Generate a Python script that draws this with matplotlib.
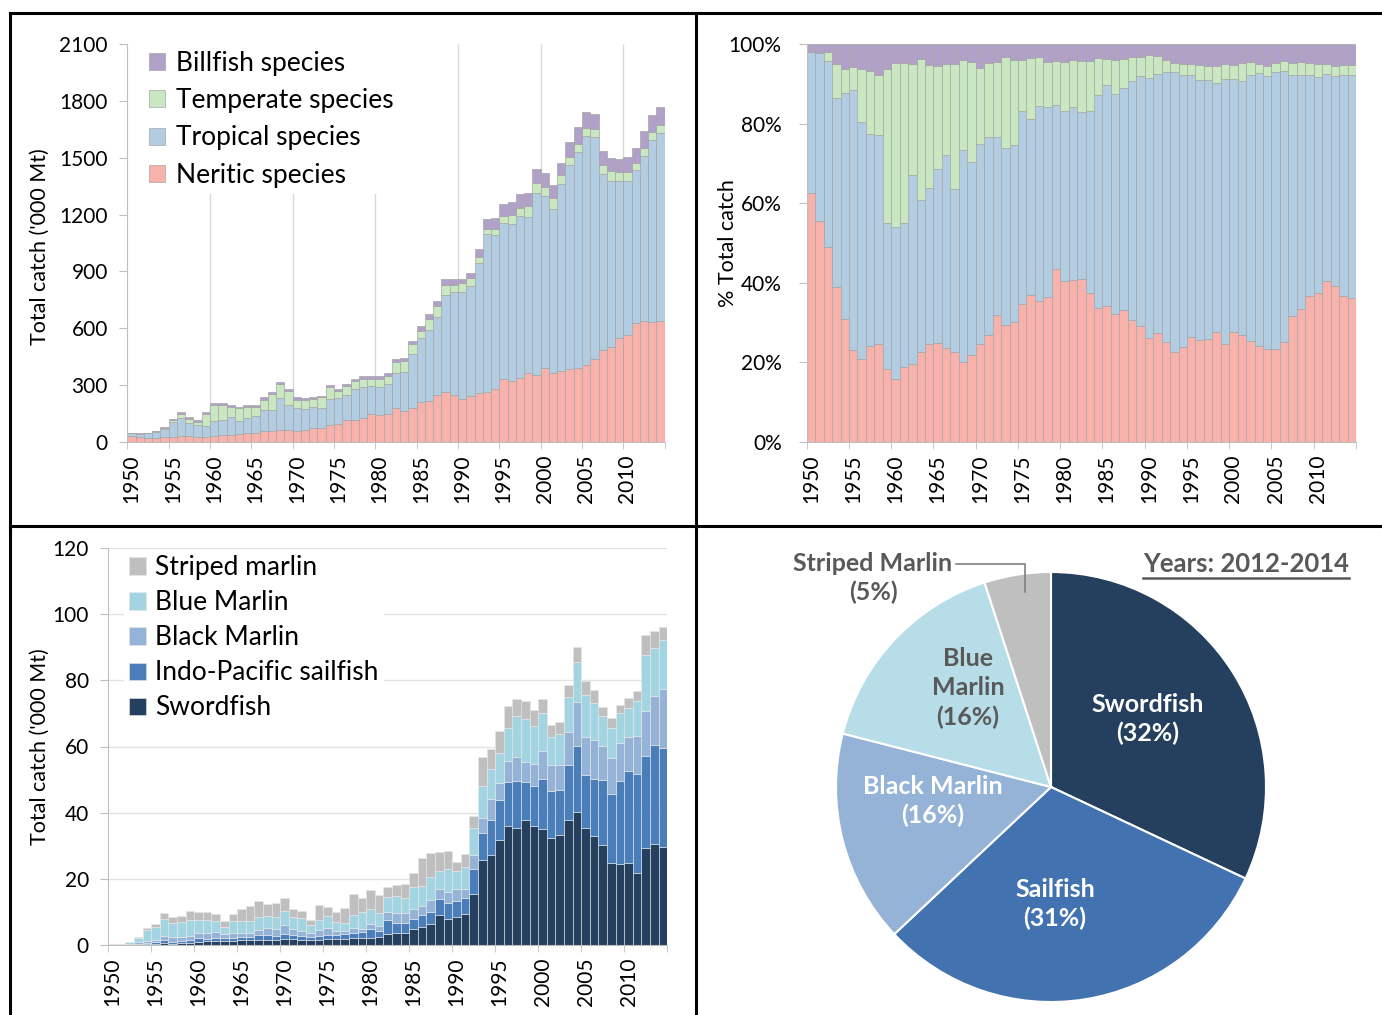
import numpy as np
import matplotlib.pyplot as plt
from matplotlib.lines import Line2D

plt.rcParams['font.family'] = ['Lato', 'DejaVu Sans']

## data
annees = np.arange(1950, 2015)

# catch by species group ('000 t)
neritic = [30, 25, 23, 23, 25, 28, 33, 32, 28, 29,
           33, 39, 38, 42, 48, 49, 56, 60, 64, 61,
           58, 62, 76, 72, 91, 97, 114, 118, 126, 150,
           140, 148, 180, 166, 180, 209, 216, 246, 263, 250,
           226, 245, 256, 265, 282, 330, 324, 340, 365, 353,
           391, 366, 373, 383, 388, 407, 436, 487, 499, 549,
           562, 628, 641, 634, 638]
tropical = [17, 19, 22, 28, 46, 79, 95, 70, 60, 58,
            79, 75, 93, 71, 76, 86, 114, 108, 169, 136,
            119, 114, 107, 108, 134, 136, 136, 163, 166, 143,
            148, 158, 185, 203, 286, 339, 374, 416, 515, 541,
            563, 579, 690, 831, 809, 825, 825, 850, 821, 960,
            905, 864, 986, 1081, 1140, 1208, 1175, 928, 880, 828,
            814, 806, 867, 959, 993]
temperate = [0, 0, 1, 5, 5, 7, 21, 21, 17, 61,
             85, 83, 54, 66, 60, 51, 54, 83, 72, 70,
             45, 43, 45, 56, 65, 36, 47, 41, 39, 38,
             42, 43, 56, 56, 50, 40, 57, 54, 52, 39,
             49, 40, 32, 27, 34, 36, 48, 46, 58, 55,
             51, 60, 49, 38, 42, 42, 43, 49, 51, 48,
             51, 39, 41, 42, 41]
billfish = [1, 1, 1, 3, 5, 7, 10, 9, 9, 10,
            10, 10, 10, 7, 10, 11, 12, 13, 13, 13,
            14, 11, 11, 8, 12, 11, 11, 11, 16, 15,
            16, 15, 19, 19, 19, 23, 27, 28, 28, 29,
            24, 27, 40, 55, 59, 63, 68, 72, 72, 72,
            74, 66, 66, 79, 90, 82, 76, 72, 67, 70,
            75, 78, 90, 93, 95]

# billfish catch by species ('000 t)
swordfish = [0.1, 0.1, 0.1, 0.2, 0.2, 0.3, 0.5, 0.4, 0.6, 0.7,
             1.0, 1.1, 1.3, 1.2, 1.2, 1.4, 1.5, 1.5, 1.5, 1.6,
             1.9, 1.7, 1.6, 1.5, 1.6, 1.7, 1.7, 1.8, 2.1, 2.1,
             2.2, 2.3, 3.3, 3.7, 3.5, 4.7, 5.5, 6.3, 9.0, 7.9,
             8.4, 9.3, 15.4, 25.7, 27.1, 31.7, 36.1, 35.5, 37.9, 35.9,
             35.2, 32.3, 33.1, 37.9, 40.1, 35.3, 32.9, 30.3, 24.7, 24.4,
             24.7, 21.9, 29.4, 30.5, 29.6]
sailfish = [0.1, 0.1, 0.1, 0.2, 0.4, 0.6, 1.0, 0.6, 0.6, 0.8,
            1.0, 0.8, 0.8, 0.8, 1.0, 0.9, 0.8, 1.4, 1.5, 1.1,
            1.3, 1.4, 1.2, 0.9, 1.1, 1.3, 1.3, 1.4, 1.6, 1.9,
            2.7, 1.9, 4.2, 3.0, 3.2, 3.2, 3.6, 3.7, 4.9, 4.9,
            4.8, 4.8, 7.7, 8.3, 10.6, 12.0, 13.2, 14.1, 11.4, 12.1,
            15.0, 14.3, 13.8, 16.5, 20.0, 16.2, 17.2, 19.7, 20.8, 25.3,
            28.0, 29.8, 27.8, 29.9, 29.9]
black_marlin = [0.1, 0.1, 0.1, 0.4, 0.5, 0.6, 1.2, 1.3, 1.3, 1.3,
                1.5, 1.8, 1.7, 1.3, 1.5, 1.3, 1.4, 1.6, 2.1, 2.0,
                2.7, 1.8, 1.5, 1.1, 1.7, 2.0, 1.3, 1.1, 1.5, 0.9,
                1.5, 1.5, 2.6, 3.1, 3.1, 3.0, 2.7, 3.6, 3.1, 3.2,
                3.6, 2.9, 4.1, 4.3, 6.4, 5.4, 6.2, 7.3, 6.0, 6.7,
                8.4, 7.9, 7.4, 10.1, 13.4, 11.5, 12.0, 10.1, 11.1, 11.5,
                10.1, 11.4, 13.5, 14.9, 18.0]
blue_marlin = [0.1, 0.1, 0.5, 1.3, 3.4, 3.9, 5.2, 4.2, 4.4, 4.9,
               4.1, 3.8, 3.5, 2.1, 3.6, 3.7, 3.6, 4.0, 3.8, 3.7,
               4.3, 3.7, 3.8, 2.4, 3.2, 3.7, 2.7, 2.5, 4.0, 5.2,
               4.4, 4.0, 4.5, 4.9, 4.5, 6.5, 6.0, 7.0, 5.5, 7.1,
               5.6, 6.5, 8.3, 9.8, 9.0, 8.8, 10.2, 12.3, 13.0, 11.5,
               11.4, 8.3, 9.4, 10.4, 11.9, 12.5, 10.9, 9.1, 9.1, 9.0,
               8.9, 10.6, 16.9, 14.6, 14.6]
striped = [0.0, 0.0, 0.2, 0.2, 0.7, 0.8, 1.9, 2.0, 2.0, 2.6,
           2.4, 2.5, 2.2, 1.9, 2.2, 3.7, 4.4, 4.7, 3.6, 4.2,
           4.0, 2.4, 2.3, 1.7, 4.4, 2.8, 3.1, 4.3, 6.3, 4.1,
           5.7, 5.4, 2.8, 3.5, 4.0, 4.3, 8.5, 7.1, 5.5, 5.4,
           2.8, 4.0, 3.6, 8.6, 6.0, 6.9, 6.5, 5.2, 5.6, 4.9,
           4.3, 3.6, 3.7, 3.6, 4.7, 4.2, 4.2, 2.8, 3.0, 2.4,
           2.9, 3.0, 6.1, 5.0, 4.1]

# pie: shares 2012-2014 (%)
pie_labels = ['Swordfish', 'Sailfish', 'Black Marlin', 'Blue\nMarlin', 'Striped Marlin']
pie_parts = [32, 31, 16, 16, 5]

## styles
groupes = [neritic, tropical, temperate, billfish]
noms_groupes = ['Neritic species', 'Tropical species', 'Temperate species', 'Billfish species']
coul_groupes = ['#F9B1AB', '#B2CCE2', '#C9E8C2', '#B1A1C8']

especes = [swordfish, sailfish, black_marlin, blue_marlin, striped]
noms_especes = ['Swordfish', 'Indo-Pacific sailfish', 'Black Marlin', 'Blue Marlin', 'Striped marlin']
coul_especes = ['#253F5F', '#4A7EBB', '#95B3D7', '#A3D4E1', '#BFBFBF']
coul_pie = ['#253F5F', '#4272B0', '#95B3D7', '#B7DDE8', '#BFBFBF']

W, H = 1382, 1015
fig = plt.figure(figsize=(W / 100, H / 100), dpi=100)

FS_TICK = 15
FS_LAB = 15.5


def px_axes(x0, y0, x1, y1):
    # axes from pixel box (top-left origin)
    return fig.add_axes([x0 / W, 1 - y1 / H, (x1 - x0) / W, (y1 - y0) / H])


def style_axe_x(ax):
    ax.set_xlim(1949.5, 2014.5)
    ax.set_xticks(np.arange(1950, 2015, 5))
    ax.set_xticklabels([str(a) for a in range(1950, 2015, 5)], rotation=90, fontsize=FS_TICK)
    ax.set_xticks(np.arange(1949.5, 2015, 5), minor=True)
    ax.tick_params(axis='x', which='major', length=0, pad=9)
    ax.tick_params(axis='x', which='minor', length=5, color='#BFBFBF')
    ax.tick_params(axis='y', length=6, color='#BFBFBF', labelsize=FS_TICK, pad=8)
    for s in ['top', 'right']:
        ax.spines[s].set_visible(False)
    for s in ['left', 'bottom']:
        ax.spines[s].set_color('#BFBFBF')


##top left: stacked catch
ax1 = px_axes(127.3, 44, 664.7, 442)
bas = np.zeros(len(annees))
barres1 = []
for vals, nom, c in zip(groupes, noms_groupes, coul_groupes):
    b = ax1.bar(annees, vals, width=1.0, bottom=bas, color=c, edgecolor='#A6A6A6', linewidth=0.5, label=nom, zorder=2)
    barres1.append(b)
    bas = bas + np.array(vals)
ax1.vlines(np.arange(1959.5, 2014, 10), 0, 2100, color='#D9D9D9', linewidth=1, zorder=1)
ax1.set_ylim(0, 2100)
ax1.set_yticks(range(0, 2101, 300))
style_axe_x(ax1)
ax1.set_ylabel("Total catch ('000 Mt)", fontsize=FS_LAB)
ax1.yaxis.set_label_coords(-0.145, 0.49)
leg1 = ax1.legend(barres1[::-1], noms_groupes[::-1], loc='upper left',
                  bbox_to_anchor=(142 / W, 1 - 44 / H), bbox_transform=fig.transFigure,
                  fontsize=19, frameon=True, facecolor='white', edgecolor='none', framealpha=1,
                  handlelength=0.62, handleheight=0.62, handletextpad=0.4, labelspacing=0.47,
                  borderpad=0.25, borderaxespad=0)
leg1.set_zorder(5)

##top right: percent
ax2 = px_axes(806.7, 44, 1356, 442)
total = np.sum(np.array(groupes), axis=0)
bas = np.zeros(len(annees))
for vals, c in zip(groupes, coul_groupes):
    pc = np.array(vals) / total * 100
    ax2.bar(annees, pc, width=1.0, bottom=bas, color=c, edgecolor='#A6A6A6', linewidth=0.5)
    bas = bas + pc
ax2.set_ylim(0, 100)
ax2.set_yticks(range(0, 101, 20))
ax2.set_yticklabels([str(v) + '%' for v in range(0, 101, 20)])
style_axe_x(ax2)
ax2.tick_params(axis='y', pad=12)
ax2.set_ylabel('% Total catch', fontsize=FS_LAB)
ax2.yaxis.set_label_coords(-0.125, 0.5)

##bottom left: billfish species
ax3 = px_axes(108.3, 548, 667.3, 945)
bas = np.zeros(len(annees))
barres3 = []
for vals, nom, c in zip(especes, noms_especes, coul_especes):
    b = ax3.bar(annees, vals, width=1.0, bottom=bas, color=c, edgecolor='#E8E8E8', linewidth=0.4, label=nom, zorder=2)
    barres3.append(b)
    bas = bas + np.array(vals)
ax3.set_ylim(0, 120)
ax3.set_yticks(range(0, 121, 20))
ax3.grid(axis='y', color='#E3E3E3', linewidth=1, zorder=0)
ax3.set_axisbelow(True)
style_axe_x(ax3)
ax3.set_ylabel("Total catch ('000 Mt)", fontsize=FS_LAB)
ax3.yaxis.set_label_coords(-0.105, 0.5)
leg3 = ax3.legend(barres3[::-1], noms_especes[::-1], loc='upper left',
                  bbox_to_anchor=(124 / W, 1 - 550 / H), bbox_transform=fig.transFigure,
                  fontsize=19, frameon=True, facecolor='white', edgecolor='none', framealpha=1,
                  handlelength=0.62, handleheight=0.62, handletextpad=0.35, labelspacing=0.38,
                  borderpad=0.2, borderaxespad=0)
leg3.set_zorder(5)

##bottom right: pie
cx, cy, r = 1051, 787, 215
ax4 = px_axes(cx - r, cy - r, cx + r, cy + r)
ax4.pie(pie_parts, colors=coul_pie, startangle=90, counterclock=False, radius=1,
        wedgeprops=dict(edgecolor='white', linewidth=1.5))
ax4.set_xlim(-1, 1)
ax4.set_ylim(-1, 1)


def pos(x, y):
    return ((x - cx) / r, (cy - y) / r)


txt = dict(ha='center', va='center', fontsize=18, fontweight='bold', linespacing=1.32)
ax4.text(*pos(1148, 719), pie_labels[0] + '\n(' + str(pie_parts[0]) + '%)', color='white', **txt)
ax4.text(*pos(1055, 904), pie_labels[1] + '\n(' + str(pie_parts[1]) + '%)', color='white', **txt)
ax4.text(*pos(933, 801), pie_labels[2] + '\n(' + str(pie_parts[2]) + '%)', color='white', **txt)
ax4.text(*pos(968, 688), pie_labels[3] + '\n(' + str(pie_parts[3]) + '%)', color='#595959', **txt)
ax4.text(*pos(873, 578), pie_labels[4] + '\n(' + str(pie_parts[4]) + '%)', color='#595959', **txt)
# leader line for striped marlin
lx, ly = zip(pos(956, 564), pos(1025, 564), pos(1025, 592))
ax4.plot(lx, ly, color='#7F7F7F', linewidth=1.2, clip_on=False)
ax4.text(*pos(1246, 564), 'Years: 2012-2014', color='#595959', ha='center', va='center',
         fontsize=18.5, fontweight='bold')
ux, uy = zip(pos(1143, 578), pos(1349, 578))
ax4.plot(ux, uy, color='#595959', linewidth=1.8, clip_on=False)

##panel borders
lw = 2.2
fig.add_artist(Line2D([10 / W, 10 / W], [0, 1 - 12.5 / H], color='black', linewidth=lw))
fig.add_artist(Line2D([10 / W, 1], [1 - 12.5 / H, 1 - 12.5 / H], color='black', linewidth=lw))
fig.add_artist(Line2D([696 / W, 696 / W], [0, 1 - 12.5 / H], color='black', linewidth=lw))
fig.add_artist(Line2D([10 / W, 1], [1 - 525.5 / H, 1 - 525.5 / H], color='black', linewidth=lw))

fig.savefig('out.png', dpi=100)
